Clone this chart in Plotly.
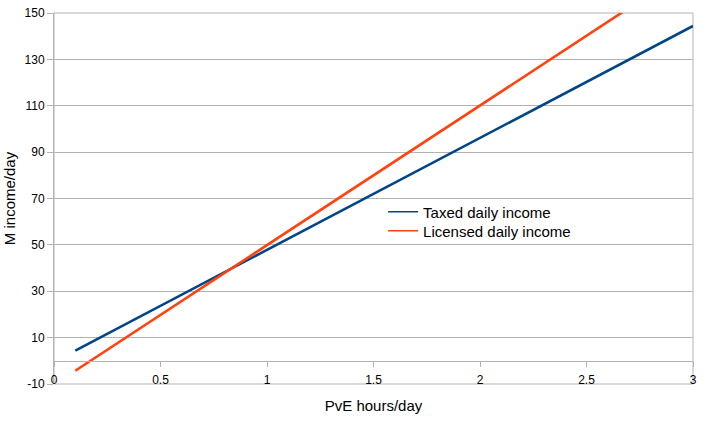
import plotly.graph_objects as go

hours = [0.1, 0.5, 1.0, 1.5, 2.0, 2.5, 3.0]
taxed = [4.4, 23.7, 47.9, 72.0, 96.2, 120.3, 144.4]
licensed = [-4.3, 19.8, 49.9, 80.0, 110.1, 140.2, 170.3]

x_ticks = [0, 0.5, 1, 1.5, 2, 2.5, 3]
x_tick_text = ["0", "0.5", "1", "1.5", "2", "2.5", "3"]
y_ticks = [-10, 10, 30, 50, 70, 90, 110, 130, 150]
y_tick_text = ["-10", "10", "30", "50", "70", "90", "110", "130", "150"]

names = ["Taxed daily income", "Licensed daily income"]
colors = ["#004586", "#ff420e"]

grid = "#b3b3b3"
font = "Liberation Sans, Arial, sans-serif"

fig = go.Figure()
for series, name, color in zip([taxed, licensed], names, colors):
    fig.add_trace(go.Scatter(x=hours, y=series, mode="lines", name=name,
                             showlegend=False, line=dict(color=color, width=2.6)))
# legend entries with the thin key line used by the original, one per legend box
for name, color, leg in zip(names, colors, ["legend", "legend2"]):
    fig.add_trace(go.Scatter(x=[None], y=[None], mode="lines", name=name,
                             legend=leg, line=dict(color=color, width=1.5)))

legend_style = dict(xanchor="left", yanchor="middle", bgcolor="rgba(0,0,0,0)",
                    font=dict(size=15), itemwidth=30)

fig.update_layout(
    width=707, height=421,
    margin=dict(l=54, r=14, t=13, b=37, autoexpand=False),
    paper_bgcolor="white", plot_bgcolor="white",
    font=dict(family=font, size=12, color="black"),
    showlegend=True,
    legend=dict(x=0.515, y=0.4636, **legend_style),
    legend2=dict(x=0.515, y=0.4124, **legend_style),
    xaxis=dict(range=[0, 3], tickvals=x_ticks, ticktext=x_tick_text,
               showgrid=False, zeroline=False, automargin=False,
               anchor="free", position=10 / 160,
               showline=True, linecolor=grid, linewidth=1,
               ticks="outside", ticklen=5, tickcolor=grid,
               ticklabelstandoff=3, ticklabeloverflow="allow",
               tickfont=dict(size=12),
               title=dict(text="PvE hours/day", font=dict(size=15), standoff=14)),
    yaxis=dict(range=[-10, 150], tickvals=y_ticks, ticktext=y_tick_text,
               showgrid=True, gridcolor=grid, gridwidth=1,
               zeroline=False, automargin=False,
               showline=True, linecolor=grid, linewidth=1,
               ticks="outside", ticklen=6, tickcolor=grid,
               ticklabeloverflow="allow",
               tickfont=dict(size=12),
               title=dict(text="M income/day", font=dict(size=15), standoff=5)),
    shapes=[dict(type="rect", xref="paper", yref="paper", x0=0, x1=1, y0=0, y1=1,
                 line=dict(color=grid, width=1), layer="below")],
)

fig.write_html("out.html", config={"displayModeBar": False},
               post_script="document.body.style.margin='0';document.body.style.overflow='hidden';")
